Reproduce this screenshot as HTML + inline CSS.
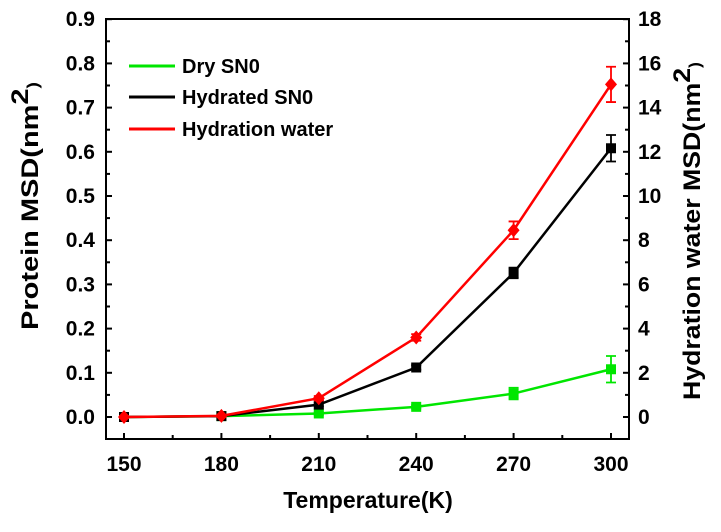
<!DOCTYPE html>
<html><head><meta charset="utf-8"><style>
html,body{margin:0;padding:0;background:#fff;}
svg text{font-family:"Liberation Sans",Arial,sans-serif;font-weight:bold;}
</style></head><body>
<svg id="chart" width="721" height="527" viewBox="0 0 721 527" xmlns="http://www.w3.org/2000/svg">
<rect x="0" y="0" width="721" height="527" fill="#fff"/>
</svg>
<script>
const temps = [150,180,210,240,270,300];
const dryVals = [0,0.002,0.008,0.023,0.053,0.108];
const dryErr = [0.002,0.002,0.003,0.004,0.013,0.03];
const hydVals = [0,0.002,0.028,0.112,0.326,0.608];
const hydErr = [0.002,0.002,0.004,0.005,0.012,0.03];
const waterVals = [0,0.05,0.85,3.6,8.45,15.05];
const waterErr = [0.05,0.05,0.1,0.15,0.4,0.8];
const leftTicks = [0,0.1,0.2,0.3,0.4,0.5,0.6,0.7,0.8,0.9];
const rightTicks = [0,2,4,6,8,10,12,14,16,18];
const xTicks = [150,180,210,240,270,300];

const svg = document.getElementById('chart');
const NS='http://www.w3.org/2000/svg';
const L=106,R=629,T=19,B=439;
const xS=v=>124+(v-150)*(611-124)/150;
const yL=v=>417-v*442;
const yR=v=>yL(v/20);
function mk(tag,attrs,parent){const e=document.createElementNS(NS,tag);for(const k in attrs)e.setAttribute(k,attrs[k]);(parent||svg).appendChild(e);return e;}

let fr=mk('rect',{x:L,y:T,width:R-L,height:B-T,fill:'none',stroke:'#000','stroke-width':2});



xTicks.forEach(t=>{
  const x=xS(t);
  let tk=mk('line',{x1:x,x2:x,y1:B,y2:B-6,stroke:'#000','stroke-width':2});
  
  
  let lb=mk('text',{x:x,y:B+32,'text-anchor':'middle','font-size':21});
  lb.textContent=t;
  
  
  if(t<300){const xm=xS(t+15);let m=mk('line',{x1:xm,x2:xm,y1:B,y2:B-4,stroke:'#000','stroke-width':2});
  
  }
});
leftTicks.forEach(t=>{
  const y=yL(t);
  let tk=mk('line',{x1:L,x2:L+6,y1:y,y2:y,stroke:'#000','stroke-width':2});
  
  
  let lb=mk('text',{x:L-11,y:y+7,'text-anchor':'end','font-size':21});
  lb.textContent=t.toFixed(1);
  
  
  if(t<0.9){const ym=yL(t+0.05);let m=mk('line',{x1:L,x2:L+4,y1:ym,y2:ym,stroke:'#000','stroke-width':2});
  
  }
});
rightTicks.forEach(t=>{
  const y=yR(t);
  let tk=mk('line',{x1:R,x2:R-6,y1:y,y2:y,stroke:'#000','stroke-width':2});
  
  
  let lb=mk('text',{x:R+9,y:y+7,'text-anchor':'start','font-size':21});
  lb.textContent=t;
  
  
  if(t<18){const ym=yR(t+1);let m=mk('line',{x1:R,x2:R-4,y1:ym,y2:ym,stroke:'#000','stroke-width':2});
  
  }
});

function series(vals,errs,yf,color,marker,name){
  const pts=vals.map((v,i)=>[xS(temps[i]),yf(v)]);
  let pl=mk('polyline',{points:pts.map(p=>p.join(',')).join(' '),fill:'none',stroke:color,'stroke-width':2.5});
  
  
  vals.forEach((v,i)=>{
    const x=pts[i][0],y=pts[i][1],y1=yf(v+errs[i]),y2=yf(v-errs[i]);
    let eb=mk('path',{d:`M${x},${y1}V${y2}M${x-5},${y1}H${x+5}M${x-5},${y2}H${x+5}`,stroke:color,'stroke-width':1.8,fill:'none'});
    
    
    let m;
    if(marker==='d') m=mk('polygon',{points:`${x},${y-7} ${x+6},${y} ${x},${y+7} ${x-6},${y}`,fill:color});
    else m=mk('rect',{x:x-5,y:y-5,width:10,height:10,fill:color});
    
    
  });
}
series(dryVals,dryErr,yL,'#00e600','s','dry-sn0');
series(hydVals,hydErr,yL,'#000','s','hydrated-sn0');
series(waterVals,waterErr,yR,'#ff0000','d','hydration-water');

[['Dry SN0','#00e600',66],['Hydrated SN0','#000',97],['Hydration water','#ff0000',129]].forEach(([t,c,y])=>{
  let ln=mk('line',{x1:129,x2:175,y1:y,y2:y,stroke:c,'stroke-width':3});
  
  
  let tx=mk('text',{x:182,y:y+7,'font-size':20});
  tx.textContent=t;
  
  
});

let xt=mk('text',{x:368,y:508,'text-anchor':'middle','font-size':23});
xt.textContent='Temperature(K)';


let lt=mk('text',{x:0,y:0,'text-anchor':'middle','font-size':24,textLength:248,lengthAdjust:'spacingAndGlyphs',transform:'translate(38,206) rotate(-90)'});
lt.innerHTML='Protein MSD(nm<tspan dy="-10" font-size="24">2</tspan><tspan dy="10" font-size="16">)</tspan>';


let rt=mk('text',{x:0,y:0,'text-anchor':'middle','font-size':24,textLength:338,lengthAdjust:'spacingAndGlyphs',transform:'translate(700,231) rotate(-90)'});
rt.innerHTML='Hydration water MSD(nm<tspan dy="-10" font-size="24">2</tspan><tspan dy="10" font-size="16">)</tspan>';


</script>
</body></html>
